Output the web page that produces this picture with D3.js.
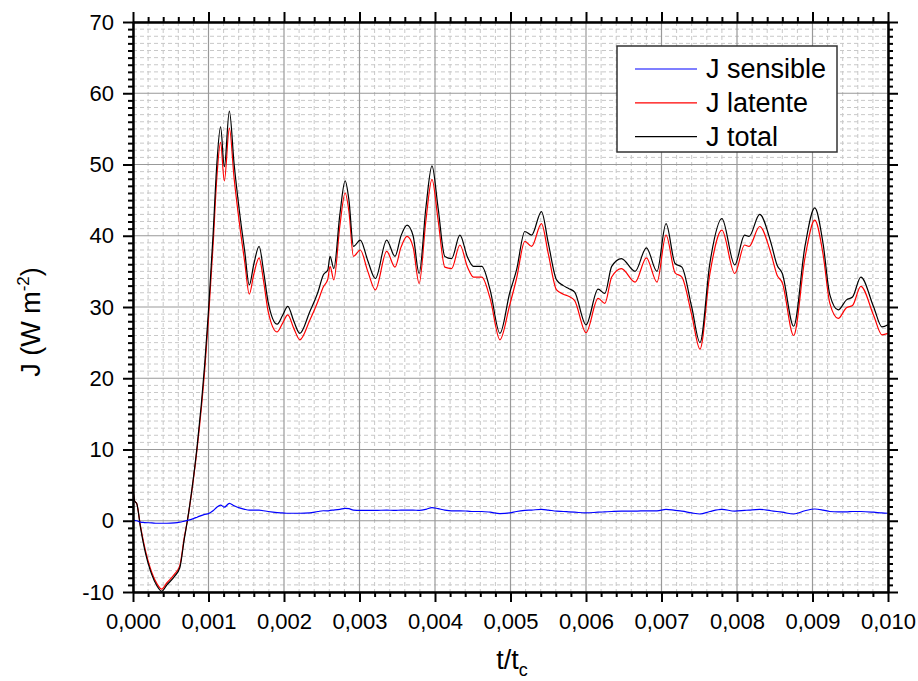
<!DOCTYPE html>
<html><head><meta charset="utf-8">
<script src="https://cdn.jsdelivr.net/npm/d3@7"></script>
<style>body{margin:0;background:#fff} text{font-family:Arial,"Liberation Sans",sans-serif}</style>
</head><body><svg id="c" width="918" height="681"></svg>
<script>
const tValues = [0.00000,0.00002,0.00005,0.00010,0.00015,0.00025,0.00032,0.00038,0.00045,0.00055,0.00062,0.00068,0.00072,0.00080,0.00085,0.00095,0.00100,0.00106,0.00111,0.00116,0.00121,0.001276,0.00134,0.00141,0.00148,0.00154,0.00160,0.00167,0.00173,0.00179,0.00191,0.00198,0.00205,0.00213,0.00221,0.00234,0.00245,0.00252,0.00258,0.00261,0.00266,0.00274,0.00281,0.00286,0.00292,0.00301,0.00311,0.00321,0.00336,0.00347,0.00355,0.00363,0.00371,0.00379,0.00388,0.00396,0.00404,0.00413,0.00422,0.00433,0.00443,0.00451,0.00462,0.00473,0.00486,0.00499,0.00508,0.00519,0.00528,0.00541,0.00550,0.00561,0.00570,0.00577,0.00585,0.00600,0.00616,0.00625,0.00634,0.00647,0.00665,0.00680,0.00694,0.00706,0.00718,0.00727,0.00740,0.00751,0.00764,0.00780,0.00797,0.00810,0.00816,0.00830,0.00845,0.00853,0.00860,0.00875,0.00890,0.00903,0.00914,0.00923,0.00934,0.00945,0.00953,0.00964,0.00981,0.00992,0.01000];
const jTotal = [4.5,2.8,2.4,-1.0,-3.8,-7.6,-9.2,-9.9,-9.0,-7.8,-6.6,-2.5,0,6,10.5,22,29.5,40,50,55.3,49.7,57.5,50,43.4,37.8,33.1,36,38.5,35,30.7,27.6,28.8,30.1,28,26.3,29.3,32.1,34.5,35.2,37.1,35.4,43,47.7,45,38.5,39.4,36.5,34.0,39.4,37.1,40,41.5,40,34.7,44,49.8,44,37.1,36.8,40.1,37,35.7,35.7,32.4,26.3,32.0,35.2,40.6,40.1,43.4,39,33.8,33.0,32.6,32.1,27.5,32.5,31.9,35.7,36.8,35.0,38.3,35.0,41.7,36.1,35.6,30.0,25.0,36.1,42.4,35.9,40.1,39.9,43.0,39,35.9,34.7,27.3,38.5,43.9,38.9,31.7,29.6,31.0,31.4,34.2,30.0,27.2,27.5];
const jLatente = [4.4,2.8,2.4,-0.8,-3.5,-7.3,-8.9,-9.6,-8.7,-7.5,-6.3,-2.3,0,5.8,10.2,21.2,28.5,38.6,48.1,53.1,47.7,55.1,48,41.7,36.3,31.8,34.6,36.9,33.6,29.4,26.5,27.7,28.9,27,25.4,28.1,30.8,32.8,33.9,35.7,33.8,41.4,46.0,43.4,37.1,38.0,35,32.4,37.8,35.6,38.4,39.9,38.4,33.3,42.2,47.9,42.3,35.6,35.4,38.7,35.6,34.2,34.2,31.2,25.4,30.3,34.0,39.2,38.5,41.7,37.5,32.4,31.8,31.5,30.9,26.4,31.2,30.5,34.2,35.4,33.5,36.9,33.5,40.1,34.8,34.2,28.9,24.1,34.6,40.8,34.7,38.7,38.5,41.3,37.5,34.5,33.4,26.0,36.9,42.2,37.4,30.5,28.4,29.9,30.2,32.9,28.8,26.1,26.3];
const jSensible = [0.1,0.05,0.0,-0.2,-0.25,-0.3,-0.35,-0.35,-0.35,-0.3,-0.2,-0.05,0.05,0.3,0.5,0.9,1.0,1.4,1.9,2.2,1.9,2.45,2.1,1.8,1.6,1.5,1.5,1.5,1.4,1.3,1.15,1.1,1.05,1.05,1.05,1.1,1.3,1.4,1.4,1.45,1.5,1.6,1.75,1.7,1.5,1.45,1.45,1.45,1.5,1.45,1.5,1.5,1.5,1.45,1.6,1.85,1.7,1.5,1.4,1.4,1.35,1.3,1.3,1.2,1.0,1.1,1.3,1.45,1.5,1.6,1.5,1.35,1.3,1.25,1.2,1.1,1.2,1.25,1.3,1.35,1.35,1.4,1.4,1.6,1.45,1.35,1.1,0.95,1.3,1.6,1.35,1.45,1.5,1.6,1.4,1.3,1.2,0.95,1.4,1.65,1.5,1.3,1.25,1.25,1.3,1.3,1.2,1.1,1.05];
const xTicks = [0,0.001,0.002,0.003,0.004,0.005,0.006,0.007,0.008,0.009,0.010];
const yTicks = [-10,0,10,20,30,40,50,60,70];
const seriesNames = ["J sensible","J latente","J total"];
const seriesColors = ["#0000ff","#ff0000","#000000"];

const svg = d3.select("#c");
const L=133,R=888,T=22,B=592;
const x = d3.scaleLinear().domain([0,0.010]).range([L,R]);
const y = d3.scaleLinear().domain([-10,70]).range([B,T]);
const xMinor = d3.range(0,0.01000001,0.0002).filter((v,i)=>i%5!==0);
const yMinor = d3.range(-10,70.0001,1).filter(v=>Math.round(v)%10!==0);
const locale = d3.formatLocale({decimal:",",thousands:".",grouping:[3],currency:["",""],minus:"-"});
const fx = locale.format(".3f");
const fy = locale.format("d");

// minor grid
const g = svg.append("g");
g.selectAll(".mx").data(xMinor).join("line").attr("x1",d=>x(d)).attr("x2",d=>x(d)).attr("y1",T).attr("y2",B)
 .attr("stroke","#c8c8c8").attr("stroke-width",1).attr("stroke-dasharray","4,3");
g.selectAll(".my").data(yMinor).join("line").attr("y1",d=>y(d)).attr("y2",d=>y(d)).attr("x1",L).attr("x2",R)
 .attr("stroke","#c8c8c8").attr("stroke-width",1).attr("stroke-dasharray","4,3");
// major grid
g.selectAll(".Mx").data(xTicks).join("line").attr("x1",d=>x(d)).attr("x2",d=>x(d)).attr("y1",T).attr("y2",B)
 .attr("stroke","#999").attr("stroke-width",1.2);
g.selectAll(".My").data(yTicks).join("line").attr("y1",d=>y(d)).attr("y2",d=>y(d)).attr("x1",L).attr("x2",R)
 .attr("stroke","#999").attr("stroke-width",1.2);

// series
const series = [jSensible,jLatente,jTotal];
const line = d3.line().x(d=>x(d[0])).y(d=>y(d[1])).curve(d3.curveMonotoneX);
[1,2,0].forEach(i=>{
  svg.append("path").datum(tValues.map((t,k)=>[t,series[i][k]])).attr("d",line)
    .attr("fill","none").attr("stroke",seriesColors[i]).attr("stroke-width",1.2);
});

// axes
function styleAxis(sel){
  sel.select(".domain").attr("stroke","#000").attr("stroke-width",2);
  sel.selectAll(".tick line").attr("stroke","#000").attr("stroke-width",2);
  sel.selectAll("text").attr("font-size",22).attr("fill","#000").attr("font-family","Arial, 'Liberation Sans', sans-serif");
}
const ax = [
  [d3.axisBottom(x).tickValues(xTicks).tickSize(10).tickSizeOuter(0).tickPadding(11).tickFormat(fx), `translate(0,${B})`],
  [d3.axisBottom(x).tickValues(xMinor).tickSize(5).tickSizeOuter(0).tickFormat(""), `translate(0,${B})`],
  [d3.axisTop(x).tickValues(xTicks).tickSize(10).tickSizeOuter(0).tickFormat(""), `translate(0,${T})`],
  [d3.axisTop(x).tickValues(xMinor).tickSize(5).tickSizeOuter(0).tickFormat(""), `translate(0,${T})`],
  [d3.axisLeft(y).tickValues(yTicks).tickSize(10).tickSizeOuter(0).tickPadding(9).tickFormat(fy), `translate(${L},0)`],
  [d3.axisLeft(y).tickValues(yMinor).tickSize(5).tickSizeOuter(0).tickFormat(""), `translate(${L},0)`],
  [d3.axisRight(y).tickValues(yTicks).tickSize(10).tickSizeOuter(0).tickFormat(""), `translate(${R},0)`],
  [d3.axisRight(y).tickValues(yMinor).tickSize(5).tickSizeOuter(0).tickFormat(""), `translate(${R},0)`]
];
ax.forEach(([a,tr])=>{ svg.append("g").attr("transform",tr).call(a).call(styleAxis); });

// axis titles
const yt = svg.append("text").attr("transform","translate(40,322) rotate(-90)").attr("text-anchor","middle")
  .attr("font-size",27).attr("fill","#000");
yt.append("tspan").text("J (W m");
yt.append("tspan").attr("font-size",17).attr("dy",-11).text("-2");
yt.append("tspan").attr("dy",11).text(")");
const xt = svg.append("text").attr("x",512).attr("y",669).attr("text-anchor","middle").attr("font-size",27).attr("fill","#000");
xt.append("tspan").text("t/t");
xt.append("tspan").attr("font-size",18).attr("dy",7).text("c");

// legend
const lg = svg.append("g");
lg.append("rect").attr("x",617).attr("y",46).attr("width",220).attr("height",106)
  .attr("fill","#fff").attr("stroke","#333").attr("stroke-width",1.5);
seriesNames.forEach((n,i)=>{
  const ly = 69 + i*33.8;
  lg.append("line").attr("x1",635).attr("x2",697).attr("y1",ly).attr("y2",ly).attr("stroke",seriesColors[i]).attr("stroke-width",1.2);
  lg.append("text").attr("x",706).attr("y",ly+9).attr("font-size",27).attr("fill","#000").text(n);
});
</script></body></html>
